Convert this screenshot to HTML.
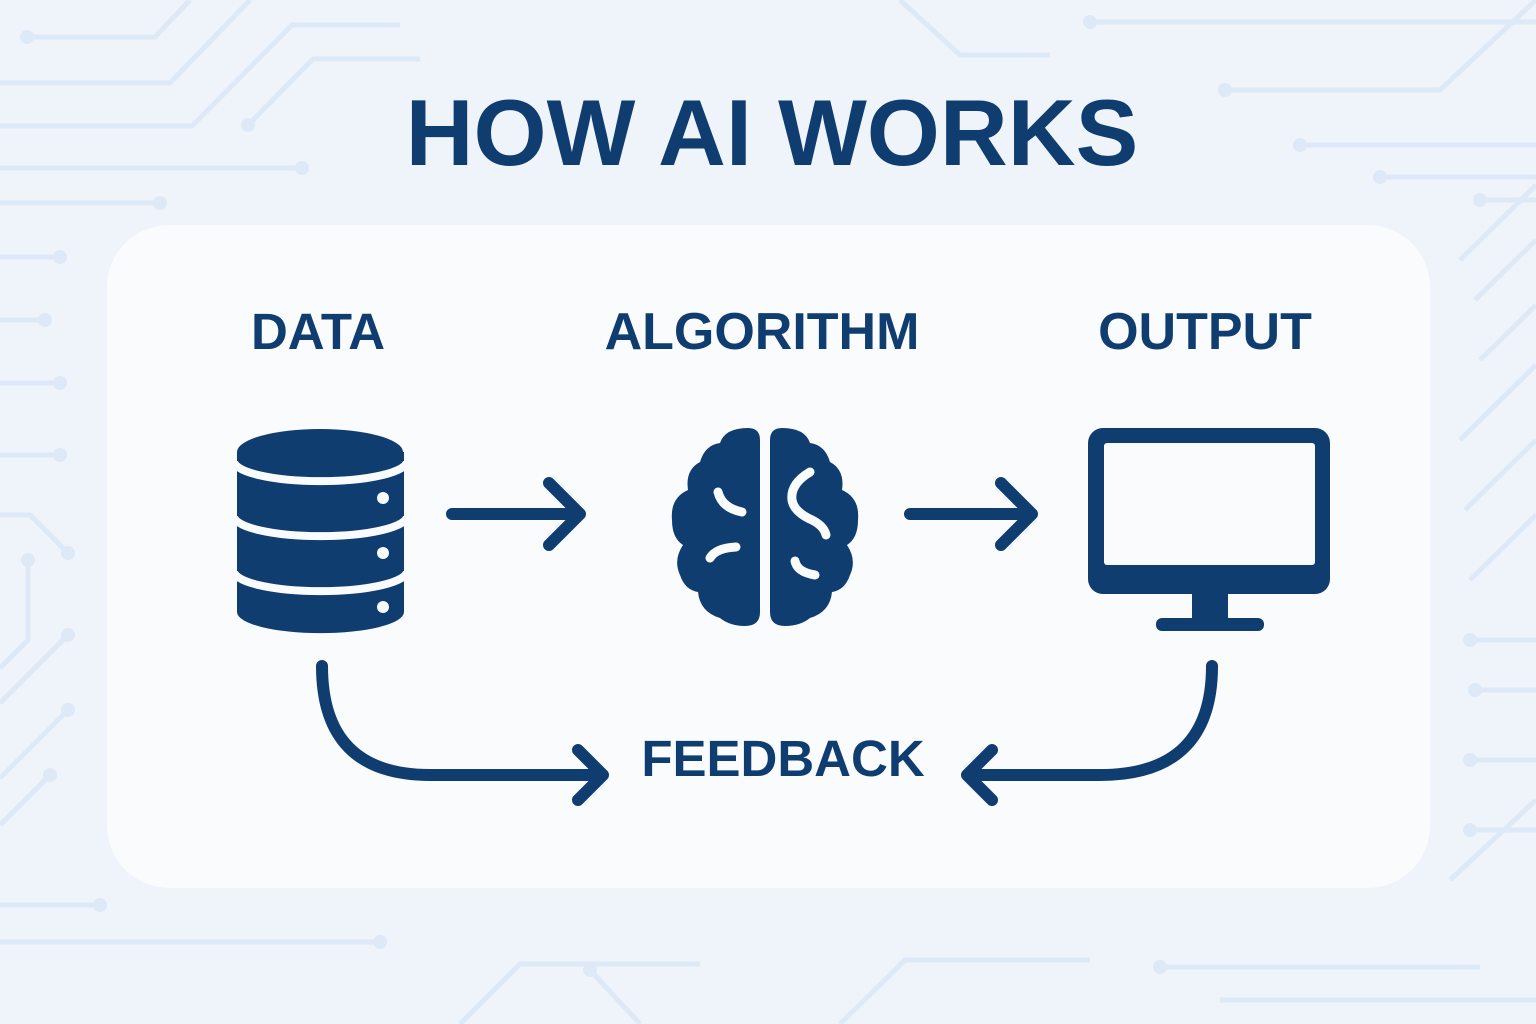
<!DOCTYPE html>
<html><head><meta charset="utf-8"><style>
html,body{margin:0;padding:0;width:1536px;height:1024px;overflow:hidden;background:#eef4fa}
</style></head><body>
<svg width="1536" height="1024" viewBox="0 0 1536 1024" xmlns="http://www.w3.org/2000/svg">
<rect width="1536" height="1024" fill="#eef4fa"/>
<g stroke="#dde9f6" stroke-width="5" fill="none">
<path d="M27 37H155L190 0"/><path d="M0 83H170L250 0"/><path d="M0 126H192L292 25H400"/><path d="M248 125L313 59H420"/>
<path d="M0 168H302"/><path d="M0 203H160"/><path d="M0 257H60"/><path d="M0 320H45"/><path d="M0 383H60"/><path d="M0 455H60"/>
<path d="M0 515H30L68 553"/><path d="M28 560V640L0 668"/><path d="M68 635L0 703"/><path d="M68 710L0 778"/><path d="M50 775L0 825"/>
<path d="M0 905H100"/><path d="M0 942H380"/><path d="M460 1024L520 964H700"/><path d="M590 970L640 1024"/><path d="M840 1024L905 960H1090"/>
<path d="M1160 967H1480"/><path d="M1220 1000H1536"/><path d="M1090 22H1536"/><path d="M1225 90H1440L1536 0"/><path d="M1300 145H1536"/>
<path d="M1380 177H1536"/><path d="M900 0L960 55H1050"/><path d="M1480 200H1536"/><path d="M1460 260L1536 185"/><path d="M1475 300L1536 240"/>
<path d="M1480 360L1536 305"/><path d="M1460 440L1536 365"/><path d="M1465 510L1536 440"/><path d="M1470 580L1536 515"/><path d="M1470 640H1536"/>
<path d="M1475 690H1536"/><path d="M1470 760H1536"/><path d="M1470 830H1536"/><path d="M1450 880L1536 800"/>
</g>
<g fill="#dde9f6">
<circle cx="27" cy="37" r="7"/><circle cx="248" cy="125" r="7"/><circle cx="302" cy="168" r="7"/><circle cx="160" cy="203" r="7"/><circle cx="60" cy="257" r="7"/>
<circle cx="45" cy="320" r="7"/><circle cx="60" cy="383" r="7"/><circle cx="60" cy="455" r="7"/><circle cx="68" cy="553" r="7"/><circle cx="28" cy="560" r="7"/>
<circle cx="68" cy="635" r="7"/><circle cx="68" cy="710" r="7"/><circle cx="50" cy="775" r="7"/><circle cx="100" cy="905" r="7"/><circle cx="380" cy="942" r="7"/>
<circle cx="590" cy="970" r="7"/><circle cx="1160" cy="967" r="7"/><circle cx="1090" cy="22" r="7"/><circle cx="1225" cy="90" r="7"/><circle cx="1300" cy="145" r="7"/>
<circle cx="1380" cy="177" r="7"/><circle cx="1480" cy="200" r="7"/><circle cx="1470" cy="640" r="7"/><circle cx="1475" cy="690" r="7"/><circle cx="1470" cy="760" r="7"/><circle cx="1470" cy="830" r="7"/>
</g>
<rect x="107" y="225" width="1323" height="663" rx="62" fill="#f9fbfd"/>
<g font-family="Liberation Sans, sans-serif" font-weight="bold" fill="#0f3d70" text-anchor="middle">
<text x="772" y="165" font-size="94">HOW AI WORKS</text>
<text x="318" y="349" font-size="51">DATA</text>
<text x="762" y="349" font-size="52">ALGORITHM</text>
<text x="1205" y="349" font-size="52">OUTPUT</text>
<text x="783" y="776" font-size="51">FEEDBACK</text>
</g>
<!-- database -->
<g fill="#0f3d70">
<path d="M237 452V612A83 21 0 0 0 404 612V452Z"/>
<ellipse cx="320" cy="452" rx="83" ry="23"/>
</g>
<g fill="none" stroke="#f9fbfd" stroke-width="8">
<path d="M234 461A86 20 0 0 0 407 461"/>
<path d="M234 516A86 20 0 0 0 407 516"/>
<path d="M234 571A86 20 0 0 0 407 571"/>
</g>
<g fill="#f9fbfd"><circle cx="383" cy="498" r="6"/><circle cx="383" cy="553" r="6"/><circle cx="383" cy="607" r="6"/></g>
<!-- monitor -->
<rect x="1088" y="428" width="242" height="166" rx="15" fill="#0f3d70"/>
<rect x="1104" y="443" width="211" height="122" rx="3" fill="#f9fbfd"/>
<rect x="1192" y="590" width="36" height="30" fill="#0f3d70"/>
<rect x="1156" y="618" width="108" height="13" rx="6" fill="#0f3d70"/>
<!-- brain -->
<g fill="#0f3d70">
<path d="M760 440Q760 428 748 428Q725 428 720 443Q705 445 700 462Q685 470 688 490Q670 498 672 520Q672 538 683 545Q673 560 680 575Q685 590 698 592Q700 612 720 618Q730 626 745 626Q760 626 760 612Z"/>
<path d="M770 440Q770 428 782 428Q805 428 810 443Q825 445 830 462Q845 470 842 490Q860 498 858 520Q858 538 847 545Q857 560 850 575Q845 590 832 592Q830 612 810 618Q800 626 785 626Q770 626 770 612Z"/>
</g>
<g fill="none" stroke="#f9fbfd" stroke-width="9" stroke-linecap="round">
<path d="M718 492Q722 508 742 512"/>
<path d="M710 558Q716 548 736 547"/>
<path d="M810 472Q790 484 792 500Q794 512 812 520Q824 526 826 535"/>
<path d="M795 561Q797 572 815 575"/>
</g>
<!-- arrows -->
<g fill="none" stroke="#0f3d70" stroke-width="12" stroke-linecap="round" stroke-linejoin="round">
<path d="M452 514H580M549 483L580 514L549 545"/>
<path d="M910 514H1032M1001 483L1032 514L1001 545"/>
<path d="M322 666Q322 775 430 775H603M578 750L603 775L578 800"/>
<path d="M1212 666Q1212 775 1100 775H967M992 750L967 775L992 800"/>
</g>
</svg>
</body></html>
